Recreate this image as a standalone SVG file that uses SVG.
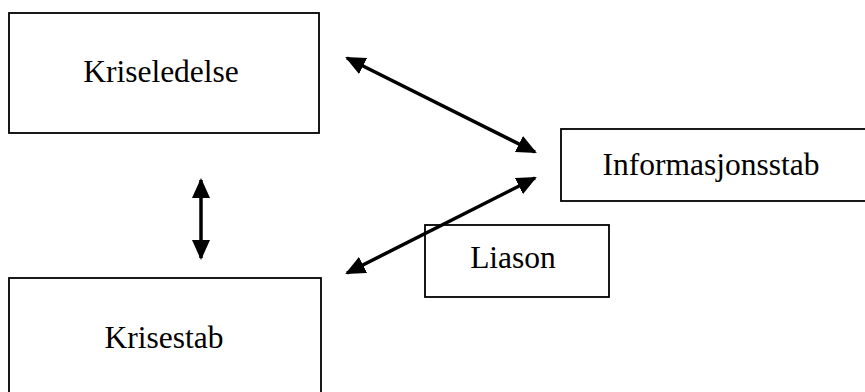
<svg xmlns="http://www.w3.org/2000/svg" width="865" height="392" viewBox="0 0 865 392">
  <style>
    .box { fill: #ffffff; stroke: #000000; stroke-width: 1.8; }
    .label { font-family: "Liberation Serif", "Times New Roman", serif; font-size: 31.5px; fill: #000000; text-anchor: middle; }
    .link { stroke: #000000; stroke-width: 3.5; fill: none; marker-start: url(#head); marker-end: url(#head); }
  </style>
  <defs>
    <marker id="head" viewBox="0 0 20 18" refX="18" refY="9" markerWidth="20" markerHeight="18" markerUnits="userSpaceOnUse" orient="auto-start-reverse">
      <path d="M0,0 L20,9 L0,18 Z" fill="#000000"/>
    </marker>
  </defs>
  <rect width="865" height="392" fill="#ffffff"/>

  <g id="kriseledelse">
    <rect class="box" x="9" y="13" width="310" height="120"/>
    <text class="label" x="161" y="82">Kriseledelse</text>
  </g>

  <g id="krisestab">
    <rect class="box" x="9" y="278" width="312" height="130"/>
    <text class="label" x="164" y="348">Krisestab</text>
  </g>

  <g id="informasjonsstab">
    <rect class="box" x="561" y="129" width="320" height="72"/>
    <text class="label" x="711" y="175">Informasjonsstab</text>
  </g>

  <g id="liason">
    <rect class="box" x="425" y="225" width="184" height="72"/>
    <text class="label" x="513" y="268">Liason</text>
  </g>

  <g id="connectors">
    <line class="link" x1="347" y1="58" x2="535" y2="152"/>
    <line class="link" x1="201" y1="180" x2="201" y2="258"/>
    <line class="link" x1="347" y1="273" x2="535" y2="178"/>
  </g>
</svg>
